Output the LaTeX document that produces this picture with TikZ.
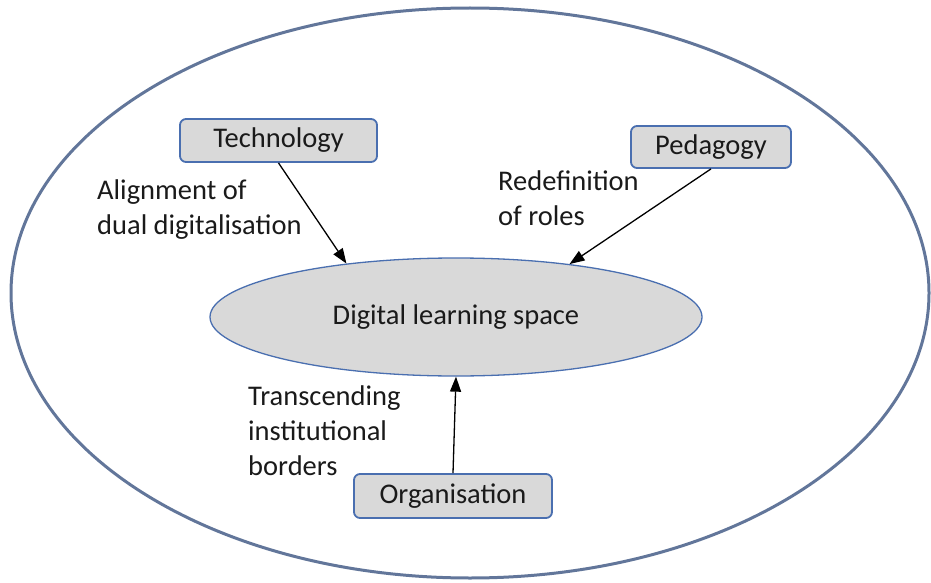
\documentclass[tikz,border=0pt]{standalone}
\usepackage{fontspec}
\setmainfont{Carlito}
\usetikzlibrary{shapes.geometric,arrows.meta}
\definecolor{outerc}{HTML}{62769A}
\definecolor{boxborder}{HTML}{4A6FB0}
\definecolor{boxfill}{HTML}{D9D9D9}
\definecolor{txt}{HTML}{1A1A1A}
\tikzset{
  x=1pt,y=-1pt,
  every node/.style={font=\fontsize{28.5}{35}\selectfont, text=txt},
  factor/.style={draw=boxborder, line width=1.8pt, fill=boxfill, rounded corners=6pt, inner sep=0pt},
  lbl/.style={align=left, anchor=west, inner sep=0pt},
  arr/.style={line width=1.3pt, -{Triangle[length=15pt,width=11pt]}},
}
\begin{document}
\begin{tikzpicture}
\useasboundingbox (0,0) rectangle (931,583);
\node[ellipse, draw=outerc, line width=3pt, minimum width=918pt, minimum height=570pt, inner sep=0pt] (outer) at (470,293) {};
\node[ellipse, draw=boxborder, line width=1.3pt, fill=boxfill, minimum width=492pt, minimum height=118pt, inner sep=0pt] (dls) at (456,317) {Digital learning space};
\node[factor, minimum width=197pt, minimum height=43pt] (tech) at (278.5,140.5) {Technology};
\node[factor, minimum width=160pt, minimum height=42pt] (ped) at (711,147) {Pedagogy};
\node[factor, minimum width=198pt, minimum height=44pt] (org) at (453,496) {Organisation};
\node[lbl] (l1) at (97,210) {Alignment of\\dual digitalisation};
\node[lbl] (l2) at (498,198) {Redefinition\\of roles};
\node[lbl] (l3) at (248,431) {Transcending\\institutional\\borders};
\draw[arr] (tech.south) -- (dls.154);
\draw[arr] (ped.south) -- (dls.25);
\draw[arr] (org.north) -- (dls.south);
\end{tikzpicture}
\end{document}
